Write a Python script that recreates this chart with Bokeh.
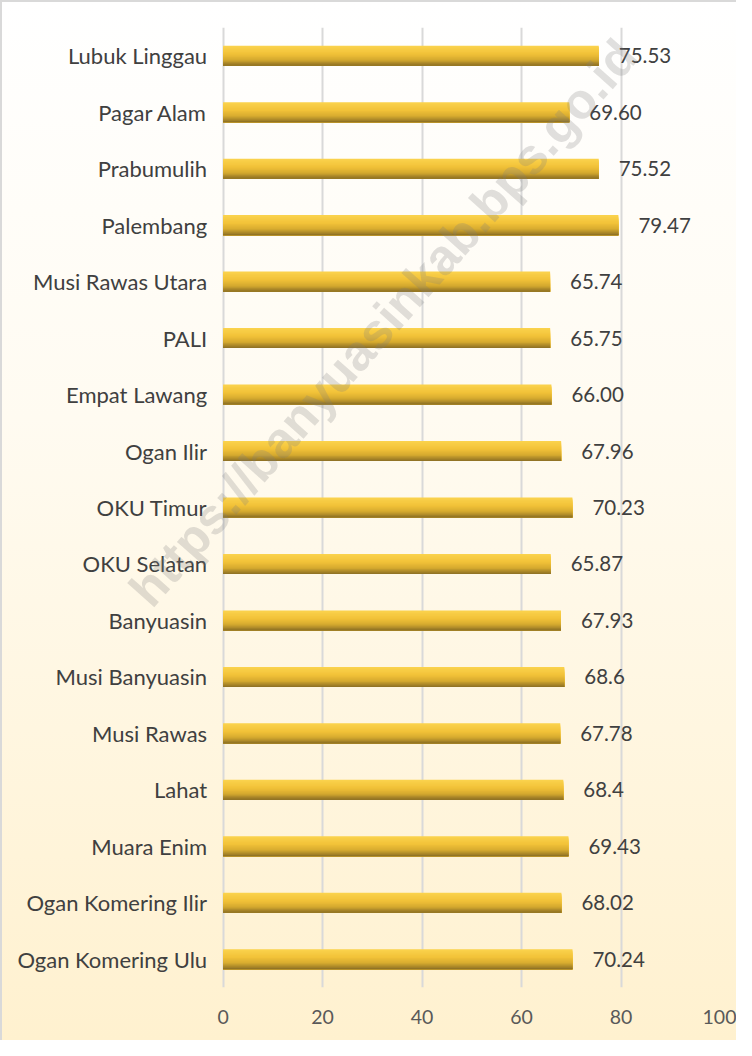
from bokeh.plotting import figure
from bokeh.models import ColumnDataSource, FixedTicker, Label, LabelSet
from bokeh.core.properties import value
from bokeh.embed import file_html
from bokeh.resources import INLINE
import math

categories = ["Ogan Komering Ulu", "Ogan Komering Ilir", "Muara Enim", "Lahat",
              "Musi Rawas", "Musi Banyuasin", "Banyuasin", "OKU Selatan",
              "OKU Timur", "Ogan Ilir", "Empat Lawang", "PALI",
              "Musi Rawas Utara", "Palembang", "Prabumulih", "Pagar Alam",
              "Lubuk Linggau"]
values = [70.24, 68.02, 69.43, 68.4, 67.78, 68.6, 67.93, 65.87, 70.23, 67.96,
          66.00, 65.75, 65.74, 79.47, 75.52, 69.60, 75.53]
value_labels = ["70.24", "68.02", "69.43", "68.4", "67.78", "68.6", "67.93", "65.87",
                "70.23", "67.96", "66.00", "65.75", "65.74", "79.47", "75.52",
                "69.60", "75.53"]
x_ticks = [0, 20, 40, 60, 80, 100]

FONT = "Lato"
pos = list(range(len(categories)))

p = figure(width=736, height=1040, output_backend="svg", toolbar_location=None,
           x_range=(-44.35, 100), y_range=(-0.5, len(categories) - 0.5),
           min_border_left=0, min_border_right=18, min_border_top=25,
           min_border_bottom=55)
p.background_fill_color = None
p.border_fill_color = None
p.outline_line_color = None
p.styles = {"background": "linear-gradient(to bottom, #ffffff 0%, #fffbf1 40%, #fff1cf 100%)",
            "border-top": "2px solid #d9d9d9", "border-left": "2px solid #d9d9d9",
            "box-sizing": "border-box"}

# gradient bars built from overlapping strips
bar_h = 0.355
stops = [(0.0, (251, 211, 78)), (0.4, (242, 194, 56)), (0.7, (214, 170, 47)), (1.0, (138, 110, 36))]

def col(t):
    for (t0, c0), (t1, c1) in zip(stops[:-1], stops[1:]):
        if t <= t1:
            f = (t - t0) / (t1 - t0)
            return "#%02x%02x%02x" % tuple(int(round(a + (b - a) * f)) for a, b in zip(c0, c1))
    return "#%02x%02x%02x" % stops[-1][1]

n = 16
for k in range(n):
    t = (k + 0.5) / n
    top = [pp + bar_h / 2 - bar_h * k / n for pp in pos]
    bot = [pp - bar_h / 2 for pp in pos]
    src = ColumnDataSource(dict(left=[0] * len(values), right=values, top=top, bottom=bot))
    p.quad(left="left", right="right", top="top", bottom="bottom", source=src,
           fill_color=col(t), line_color=None)

# value labels
lsrc = ColumnDataSource(dict(x=values, y=pos, t=value_labels))
p.add_layout(LabelSet(x="x", y="y", text="t", source=lsrc, x_offset=20,
                      text_baseline="middle", text_font=value(FONT),
                      text_font_size="20.5px", text_color="#404040"))

# category labels
csrc = ColumnDataSource(dict(x=[0] * len(categories), y=pos, t=categories))
p.text(x="x", y="y", text="t", source=csrc, x_offset=-16, text_align="right",
       text_baseline="middle", text_font=value(FONT), text_font_size="22px",
       text_color="#404040")

# grid/axes
p.xgrid.ticker = FixedTicker(ticks=x_ticks)
p.xgrid.grid_line_color = "#d9d9d9"
p.xgrid.grid_line_width = 2
p.ygrid.grid_line_color = None

p.xaxis.ticker = FixedTicker(ticks=x_ticks)
p.xaxis.axis_line_color = None
p.xaxis.major_tick_line_color = None
p.xaxis.minor_tick_line_color = None
p.xaxis.major_label_standoff = 16
p.xaxis.major_label_text_font = FONT
p.xaxis.major_label_text_font_size = "19.5px"
p.xaxis.major_label_text_color = "#595959"
p.yaxis.visible = False

p.add_layout(Label(x=32.2, y=11.27, text="https://banyuasinkab.bps.go.id",
                   angle=math.radians(48.5), text_align="center", text_baseline="middle",
                   text_font="Liberation Sans", text_font_style="bold",
                   text_font_size="50px", text_color="#7f7f7f", text_alpha=0.24))

open("out.html", "w").write(file_html(p, INLINE))
